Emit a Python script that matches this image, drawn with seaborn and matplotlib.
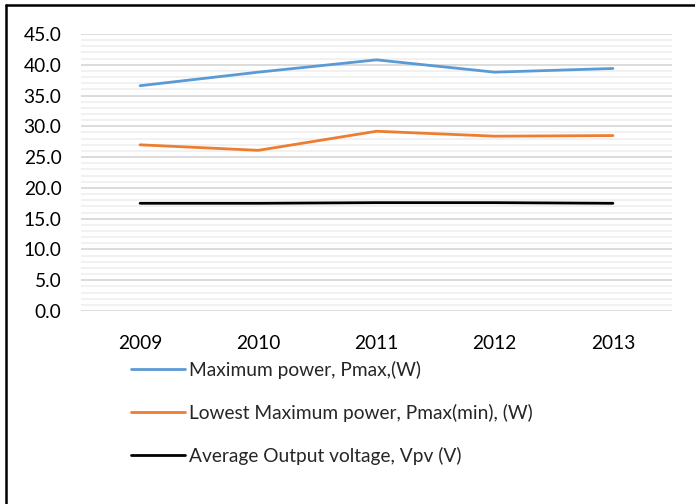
import pandas as pd
import matplotlib.pyplot as plt
import seaborn as sns
from matplotlib.ticker import MultipleLocator
from matplotlib.lines import Line2D

# --- data ---
years = ['2009', '2010', '2011', '2012', '2013']
pmax = [36.6, 38.8, 40.8, 38.8, 39.4]
pmax_min = [27.0, 26.1, 29.2, 28.4, 28.5]
vpv = [17.5, 17.5, 17.6, 17.6, 17.5]

labels = ['Maximum power, Pmax,(W)',
          'Lowest Maximum power, Pmax(min), (W)',
          'Average Output voltage, Vpv (V)']
colors = ['#5B9BD5', '#ED7D31', '#000000']

df = pd.DataFrame({
    'Year': years * 3,
    'value': pmax + pmax_min + vpv,
    'series': [labels[0]] * 5 + [labels[1]] * 5 + [labels[2]] * 5,
})

sns.set_style("white")
plt.rcParams['font.family'] = ['Lato', 'DejaVu Sans']
FS = 13.8

fig = plt.figure(figsize=(6.95, 5.04), dpi=100)
ax = fig.add_axes([81 / 695, 1 - 311 / 504, (672 - 81) / 695, (311 - 34) / 504])

sns.lineplot(data=df, x='Year', y='value', hue='series', palette=colors,
             linewidth=2, ax=ax, legend=False, sort=False)

ax.set_xlim(-0.5, 4.5)
ax.set_ylim(0, 45)
ax.yaxis.set_major_locator(MultipleLocator(5))
ax.yaxis.set_minor_locator(MultipleLocator(1))
ax.yaxis.set_major_formatter(lambda v, p: f"{v:.1f}")
ax.grid(axis='y', which='major', color='#d9d9d9', linewidth=1.3, zorder=0)
ax.grid(axis='y', which='minor', color='#f0f0f0', linewidth=1.3, zorder=0)
ax.grid(axis='x', visible=False)
ax.set_axisbelow(True)
for s in ax.spines.values():
    s.set_visible(False)
ax.tick_params(axis='both', which='both', length=0, labelsize=FS, colors='#000000')
ax.tick_params(axis='y', pad=14)
ax.tick_params(axis='x', pad=17)
ax.set_xlabel('')
ax.set_ylabel('')

handles = [Line2D([0], [0], color=c, linewidth=2) for c in colors]
fig.legend(handles, labels, loc='upper left', bbox_to_anchor=(121 / 695, 1 - 351 / 504),
           frameon=False, borderpad=0, handlelength=2.85, handletextpad=0.2,
           labelspacing=1.3, fontsize=FS)

# outer chart border (top and left visible)
fig.add_artist(Line2D([6 / 695, 6 / 695], [0, 1 - 5 / 504], transform=fig.transFigure,
                      color='black', linewidth=1.8))
fig.add_artist(Line2D([6 / 695, 1], [1 - 5 / 504, 1 - 5 / 504], transform=fig.transFigure,
                      color='black', linewidth=1.8))

fig.savefig('out.png', dpi=100)
